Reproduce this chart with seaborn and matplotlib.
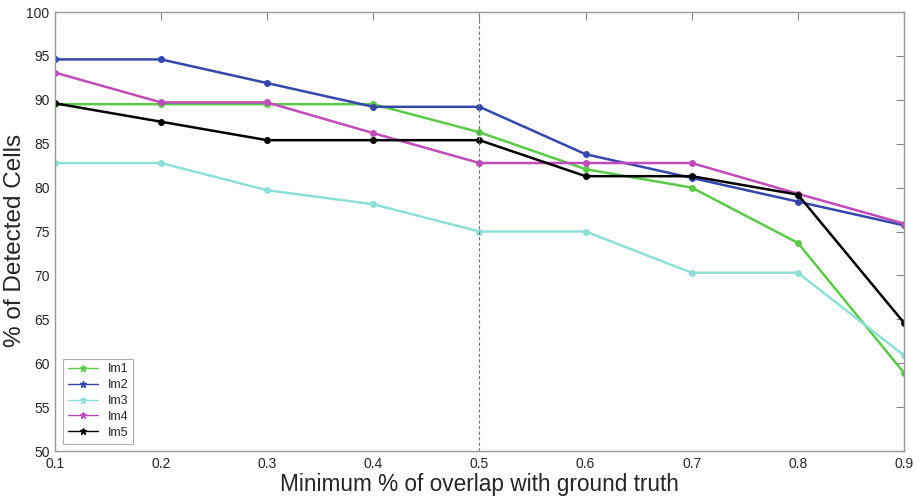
import pandas as pd
import numpy as np
import matplotlib
matplotlib.use('Agg')
import matplotlib.pyplot as plt
import seaborn as sns
from matplotlib.lines import Line2D

# overlap thresholds
overlap = [0.1, 0.2, 0.3, 0.4, 0.5, 0.6, 0.7, 0.8, 0.9]

# detected cells (%) per image
im1 = [89.5, 89.5, 89.5, 89.5, 86.3, 82.1, 80.0, 73.7, 58.9]
im2 = [94.6, 94.6, 91.9, 89.2, 89.2, 83.8, 81.1, 78.4, 75.7]
im3 = [82.8, 82.8, 79.7, 78.1, 75.0, 75.0, 70.3, 70.3, 60.9]
im4 = [93.1, 89.7, 89.7, 86.2, 82.8, 82.8, 82.8, 79.3, 75.9]
im5 = [89.6, 87.5, 85.4, 85.4, 85.4, 81.3, 81.3, 79.2, 64.6]

names = ['Im1', 'Im2', 'Im3', 'Im4', 'Im5']
colors = ['#5cc94a', '#3547aa', '#8ee0d6', '#c04cbc', '#000000']

df = pd.concat([
    pd.DataFrame({'overlap': overlap, 'detected': vals, 'image': n})
    for n, vals in zip(names, [im1, im2, im3, im4, im5])
])

sns.set_style('white')
plt.rcParams['font.family'] = ['Liberation Sans', 'DejaVu Sans']

fig = plt.figure(figsize=(9.19, 4.99), dpi=100)
ax = fig.add_axes([55 / 919, 48 / 499, 849 / 919, 439 / 499])

sns.lineplot(data=df, x='overlap', y='detected', hue='image', palette=colors,
             marker='o', markersize=5, markeredgewidth=0, linewidth=1.8,
             legend=False, ax=ax)

ax.axvline(0.5, color='#777777', linestyle='--', linewidth=0.8, dashes=(3, 2))

ax.set_xlim(0.1, 0.9)
ax.set_ylim(50, 100)
ax.set_xticks(overlap)
ax.set_xticklabels([f'{v:.1f}' for v in overlap])
ax.set_yticks(range(50, 101, 5))
ax.tick_params(direction='in', length=6, width=0.8, color='#888888',
               labelsize=10, top=True, right=True, pad=4)
for s in ax.spines.values():
    s.set_color('#999999')
    s.set_linewidth(1.0)

ax.set_xlabel('')
ax.set_ylabel('')
fig.text(479 / 919, 1 - 485 / 499, 'Minimum % of overlap with ground truth',
         fontsize=16.3, ha='center', va='center')
fig.text(15 / 919, 1 - 240 / 499, '% of Detected Cells', fontsize=17.5,
         rotation=90, ha='center', va='center')

handles = [Line2D([0], [0], color=c, marker='*', markersize=5, linewidth=1.0)
           for c in colors]
leg = ax.legend(handles, names, loc='lower left', fontsize=9, frameon=True,
                fancybox=False, borderaxespad=0.6, handlelength=2.4,
                labelspacing=0.3, borderpad=0.4)
leg.get_frame().set_edgecolor('#999999')
leg.get_frame().set_linewidth(0.8)

fig.savefig('out.png', dpi=100)
